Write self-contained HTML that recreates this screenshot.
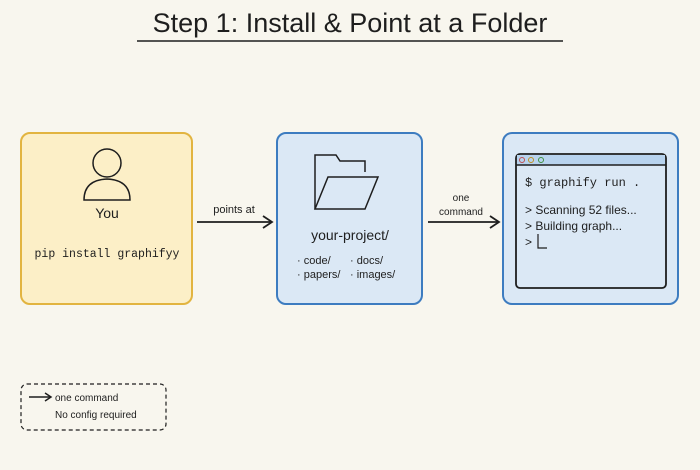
<!DOCTYPE html>
<html><head><meta charset="utf-8"><style>
html,body{margin:0;padding:0;background:#f8f6ee;}
svg{display:block}
text{font-family:"Liberation Sans",sans-serif;fill:#1e1e1e}
.m{font-family:"Liberation Mono",monospace}
</style></head><body>
<svg width="700" height="470" viewBox="0 0 700 470" xmlns="http://www.w3.org/2000/svg">
<rect width="700" height="470" fill="#f8f6ee"/>
<text x="350" y="32" font-size="27" text-anchor="middle">Step 1: Install &amp; Point at a Folder</text>
<line x1="137" y1="41" x2="563" y2="41" stroke="#1e1e1e" stroke-width="1.5"/>

<rect x="21" y="133" width="171" height="171" rx="9" fill="#fcefc7" stroke="#e2b440" stroke-width="2"/>
<circle cx="107" cy="163" r="14" fill="none" stroke="#1e1e1e" stroke-width="1.5"/>
<path d="M84 200 Q84 180 107 179 Q130 180 130 200 Z" fill="none" stroke="#1e1e1e" stroke-width="1.5"/>
<text x="107" y="218" font-size="14" text-anchor="middle">You</text>
<text x="107" y="257" font-size="11.5" class="m" text-anchor="middle">pip install graphifyy</text>

<line x1="197" y1="222" x2="271" y2="222" stroke="#1e1e1e" stroke-width="1.8"/>
<path d="M263 216 L272 222 L263 228" fill="none" stroke="#1e1e1e" stroke-width="1.8"/>
<text x="234" y="213" font-size="11" text-anchor="middle">points at</text>

<rect x="277" y="133" width="145" height="171" rx="9" fill="#dbe8f5" stroke="#3d7cc0" stroke-width="2"/>
<path d="M315 209 L315 155 L336 155 L340 161 L365 161 L365 172" fill="none" stroke="#1e1e1e" stroke-width="1.5"/>
<path d="M315 209 L328 177 L378 177 L365 209 Z" fill="none" stroke="#1e1e1e" stroke-width="1.5"/>
<text x="350" y="240" font-size="14" text-anchor="middle">your-project/</text>
<text x="297" y="264" font-size="11">· code/</text>
<text x="350" y="264" font-size="11">· docs/</text>
<text x="297" y="278" font-size="11">· papers/</text>
<text x="350" y="278" font-size="11">· images/</text>

<line x1="428" y1="222" x2="498" y2="222" stroke="#1e1e1e" stroke-width="1.8"/>
<path d="M490 216 L499 222 L490 228" fill="none" stroke="#1e1e1e" stroke-width="1.8"/>
<text x="461" y="201" font-size="10" text-anchor="middle">one</text>
<text x="461" y="215" font-size="10" text-anchor="middle">command</text>

<rect x="503" y="133" width="175" height="171" rx="9" fill="#dbe8f5" stroke="#3d7cc0" stroke-width="2"/>
<rect x="516" y="154" width="150" height="134" rx="4" fill="#dbe8f5" stroke="#1e1e1e" stroke-width="1.8"/>
<rect x="517" y="155" width="148" height="10" fill="#b8d3ee"/>
<line x1="516" y1="165" x2="666" y2="165" stroke="#1e1e1e" stroke-width="1.5"/>
<circle cx="522" cy="160" r="2.5" fill="none" stroke="#c05050"/>
<circle cx="531" cy="160" r="2.5" fill="none" stroke="#c09020"/>
<circle cx="541" cy="160" r="2.5" fill="none" stroke="#409040"/>
<text x="525" y="186" font-size="12" class="m">$ graphify run .</text>
<text x="525" y="214" font-size="12">&gt; Scanning 52 files...</text>
<text x="525" y="230" font-size="12">&gt; Building graph...</text>
<text x="525" y="246" font-size="12">&gt;</text>
<path d="M538 234 L538 248 L547 248" fill="none" stroke="#1e1e1e" stroke-width="1.2"/>

<rect x="21" y="384" width="145" height="46" rx="6" fill="none" stroke="#1e1e1e" stroke-width="1.2" stroke-dasharray="4 3"/>
<line x1="29" y1="397" x2="50" y2="397" stroke="#1e1e1e" stroke-width="1.5"/>
<path d="M45 393 L51 397 L45 401" fill="none" stroke="#1e1e1e" stroke-width="1.5"/>
<text x="55" y="401" font-size="10">one command</text>
<text x="55" y="418" font-size="10">No config required</text>
</svg>
</body></html>
